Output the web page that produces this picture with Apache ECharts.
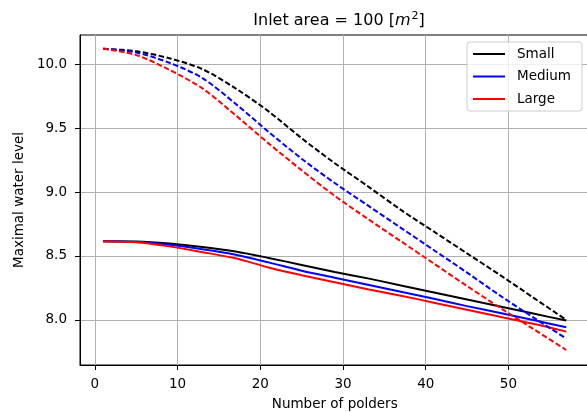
<!DOCTYPE html>
<html>
<head>
<meta charset="utf-8">
<script src="https://cdn.jsdelivr.net/npm/echarts@6/dist/echarts.min.js"></script>
<style>
  html, body { margin: 0; padding: 0; background: #fff; }
  #chart { width: 587px; height: 412px; }
</style>
</head>
<body>
<div id="chart"></div>
<script>
// Number of polders (sample positions along the x axis)
const polders = [1, 5, 9, 13, 17, 21, 25, 29, 33, 37, 41, 45, 49, 53, 57];

// Maximal water level, solid curves
const smallSolid  = [8.615, 8.613, 8.597, 8.570, 8.535, 8.485, 8.430, 8.375, 8.325, 8.270, 8.215, 8.160, 8.105, 8.050, 7.995];
const mediumSolid = [8.615, 8.610, 8.588, 8.553, 8.510, 8.450, 8.385, 8.330, 8.275, 8.220, 8.165, 8.108, 8.055, 7.999, 7.943];
const largeSolid  = [8.615, 8.607, 8.575, 8.530, 8.482, 8.410, 8.350, 8.295, 8.240, 8.190, 8.135, 8.080, 8.025, 7.970, 7.909];

// Maximal water level, dashed curves
const smallDashed  = [10.12, 10.10, 10.045, 9.96, 9.81, 9.63, 9.42, 9.225, 9.045, 8.86, 8.69, 8.52, 8.35, 8.175, 8.00];
const mediumDashed = [10.12, 10.09, 10.01, 9.89, 9.69, 9.47, 9.26, 9.07, 8.895, 8.72, 8.545, 8.37, 8.19, 8.02, 7.855];
const largeDashed  = [10.12, 10.07, 9.955, 9.81, 9.60, 9.38, 9.17, 8.97, 8.79, 8.615, 8.44, 8.265, 8.095, 7.93, 7.765];

// Tick labels
const xTicks = [0, 10, 20, 30, 40, 50];
const yTicks = [8.0, 8.5, 9.0, 9.5, 10.0];

const sizeNames = ['Small', 'Medium', 'Large'];
const sizeColors = ['#000000', '#0000ff', '#ff0000'];

const FONT = 'DejaVu Sans';

function pairs(ys) {
  return polders.map((x, i) => [x, ys[i]]);
}

function lineSeries(name, color, ys, dashed) {
  return {
    type: 'line',
    name: name,
    data: pairs(ys),
    symbol: 'none',
    smooth: 0.3,
    silent: true,
    animation: false,
    lineStyle: {
      color: color,
      width: 2,
      type: dashed ? [5.5, 2.5] : 'solid'
    },
    itemStyle: { color: color },
    z: dashed ? 3 : 2
  };
}

const solidSets = [smallSolid, mediumSolid, largeSolid];
const dashedSets = [smallDashed, mediumDashed, largeDashed];

const series = [];
solidSets.forEach((ys, i) => series.push(lineSeries(sizeNames[i], sizeColors[i], ys, false)));
dashedSets.forEach((ys, i) => series.push(lineSeries(sizeNames[i], sizeColors[i], ys, true)));

const chart = echarts.init(document.getElementById('chart'), null, { renderer: 'canvas' });

chart.setOption({
  animation: false,
  backgroundColor: '#ffffff',
  textStyle: { fontFamily: FONT },
  title: {
    text: '{n|Inlet area = 100 [}{i|m}{s|2}{n|]}',
    left: 334,
    textAlign: 'center',
    top: 6,
    textStyle: {
      fontWeight: 'normal',
      rich: {
        n: { fontFamily: FONT, fontSize: 16, fontWeight: 'normal', color: '#000' },
        i: { fontFamily: FONT, fontSize: 16, fontWeight: 'normal', fontStyle: 'italic', color: '#000' },
        s: { fontFamily: FONT, fontSize: 11, fontWeight: 'normal', color: '#000', padding: [0, 0, 8, 1] }
      }
    }
  },
  legend: {
    data: sizeNames.map((n, i) => ({
      name: n,
      itemStyle: { color: sizeColors[i], opacity: 0 },
      lineStyle: { color: sizeColors[i], type: 'solid', width: 2 }
    })),
    orient: 'vertical',
    left: 467,
    top: 42,
    padding: [5, 11, 5, 5],
    itemWidth: 32,
    itemHeight: 14,
    itemGap: 8.5,
    backgroundColor: 'rgba(255,255,255,0.8)',
    borderColor: '#cccccc',
    borderWidth: 1,
    borderRadius: 3,
    selectedMode: false,
    textStyle: { fontFamily: FONT, fontSize: 13.5, color: '#000', padding: [0, 0, 0, 7] }
  },
  grid: {
    left: 80,
    right: -2.5,
    top: 35,
    bottom: 47,
    show: true,
    borderColor: '#000',
    borderWidth: 1,
    backgroundColor: 'transparent',
    containLabel: false,
    outerBoundsMode: 'none'
  },
  xAxis: {
    type: 'value',
    min: -1.8,
    max: 59.8,
    name: 'Number of polders',
    nameLocation: 'middle',
    nameGap: 32,
    nameTextStyle: { fontFamily: FONT, fontSize: 13.5, color: '#000' },
    axisLine: { show: true, onZero: false, lineStyle: { color: '#000', width: 1 } },
    axisTick: { show: true, inside: false, length: 5, customValues: xTicks, lineStyle: { color: '#000' } },
    axisLabel: { customValues: xTicks, fontFamily: FONT, fontSize: 13.5, color: '#000', margin: 12, formatter: v => String(v) },
    splitLine: { show: true, lineStyle: { color: '#b0b0b0', width: 1 } }
  },
  yAxis: {
    type: 'value',
    min: 7.648,
    max: 10.227,
    name: 'Maximal water level',
    nameLocation: 'middle',
    nameGap: 53,
    nameTextStyle: { fontFamily: FONT, fontSize: 13.5, color: '#000' },
    axisLine: { show: true, onZero: false, lineStyle: { color: '#000', width: 1 } },
    axisTick: { show: true, inside: false, length: 5, customValues: yTicks, lineStyle: { color: '#000' } },
    axisLabel: { customValues: yTicks, fontFamily: FONT, fontSize: 13.5, color: '#000', margin: 13, formatter: v => v.toFixed(1) },
    splitLine: { show: true, lineStyle: { color: '#b0b0b0', width: 1 } }
  },
  series: series
});
</script>
</body>
</html>
